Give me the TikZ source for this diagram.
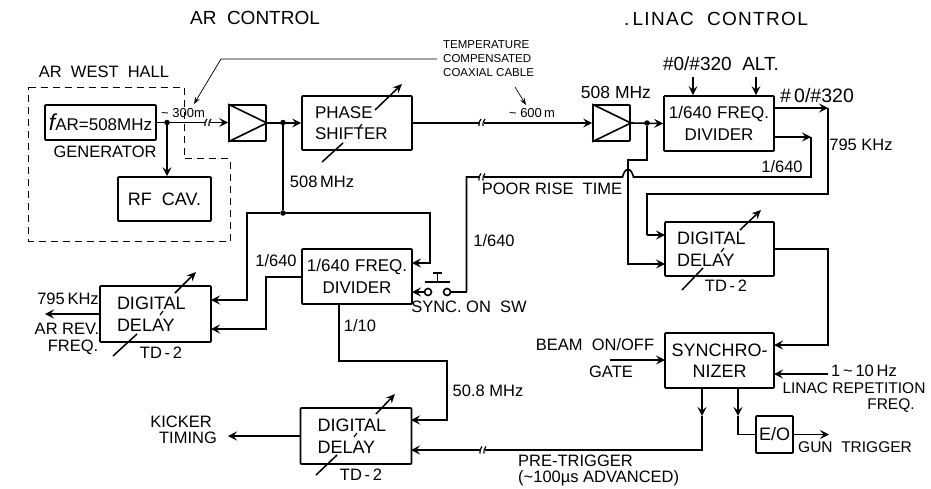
\documentclass[tikz,border=0pt]{standalone}
\usepackage{fontspec}
\setmainfont{Liberation Sans}
\usetikzlibrary{arrows.meta}
\tikzset{
  sig/.style={line width=1.6pt, -{Stealth[length=9pt,width=9pt,inset=3.5pt]}},
  wire/.style={line width=1.6pt},
  blk/.style={draw, line width=1.7pt, rounded corners=0.8pt, inner ysep=0pt, align=left, font=\fontsize{18}{21.5}\selectfont},
  ampblk/.style={blk, minimum width=37pt, minimum height=36pt, inner sep=0pt},
  delayblk/.style={blk, minimum height=56pt, text width=77pt, inner xsep=17pt},
  divblk/.style={blk, minimum height=55pt, text width=109pt, inner xsep=0.5pt, align=center, font=\fontsize{17}{22}\selectfont},
  lbl/.style={inner sep=0pt, align=center, font=\fontsize{16.5}{18}\selectfont},
  title/.style={inner sep=0pt, font=\fontsize{19}{20}\selectfont},
  tiny/.style={inner sep=0pt, align=left, font=\fontsize{11.5}{14}\selectfont},
  dot/.style={circle, fill, inner sep=0pt, minimum size=5.5pt},
  contact/.style={circle, draw, line width=1.6pt, inner sep=0pt, minimum size=7pt},
  trim/.style={line width=1.5pt, -{Stealth[length=9pt,width=8pt,inset=3pt]}},
  pics/cut/.style={code={
    \fill[white] (-2,-3) rectangle (2,3);
    \draw[line width=1.2pt] (-3,3.5) to[bend left=25] (-1,-3.5);
    \draw[line width=1.2pt] (1,3.5) to[bend left=25] (3,-3.5);
  }}
}
\begin{document}
\begin{tikzpicture}[x=1pt,y=-1pt]
  \useasboundingbox (0,0) rectangle (931,488);

  % Titles
  \node[title] (tAR) at (255,18) {AR\ \ CONTROL};
  \node[title] (tLI) at (716,19) {\addfontfeature{LetterSpace=7}.\,LINAC\ \ CONTROL};

  % West hall
  \draw[line width=0.8pt, dash pattern=on 7pt off 5pt] (28.5,87) -- (184,87) -- (184,158.5) -- (230,158.5) -- (230,241) -- (28.5,241) -- cycle;
  \node[lbl] (hall) at (104,72) {AR\ \ WEST\ \ HALL};

  % Blocks
  \node[blk, minimum width=111pt, minimum height=35pt, inner sep=0pt] (gen) at (100.5,122.5) {{\fontsize{23}{23}\selectfont\itshape f}{\fontsize{17}{17}\selectfont AR=508MHz}};
  \node[lbl] (genlbl) at (105,152) {GENERATOR};
  \node[blk, minimum width=93pt, minimum height=44pt, inner sep=0pt] (cav) at (164.5,199) {RF\ \ CAV.};
  \node[ampblk] (ampA) at (247.5,123) {};
  \node[blk, minimum height=54pt, text width=84pt, inner xsep=13pt, font=\fontsize{17}{21}\selectfont] (phase) at (357,123) {PHASE\\SHIFTER};
  \node[ampblk] (ampB) at (611.5,123) {};
  \node[divblk] (divB) at (719,123.5) {1/640 FREQ.\\DIVIDER};
  \node[blk, minimum height=54pt, text width=85pt, inner xsep=12pt] (delB) at (719.5,249) {DIGITAL\\DELAY};
  \node[blk, minimum height=55pt, minimum width=109pt, inner sep=0pt, align=center] (sync) at (719.5,360.5) {SYNCHRO-\\NIZER};
  \node[divblk] (divA) at (357,276.5) {1/640 FREQ.\\DIVIDER};
  \node[delayblk] (delA) at (155.5,314) {DIGITAL\\DELAY};
  \node[delayblk] (delC) at (356,436) {DIGITAL\\DELAY};
  \node[blk, minimum width=37pt, minimum height=37pt, inner sep=0pt] (eo) at (774.5,434.5) {E/O};

  % Amplifier triangles
  \draw[wire] (ampA.north west) -- (ampA.east) -- (ampA.south west);
  \draw[wire] (ampB.north west) -- (ampB.east) -- (ampB.south west);

  % Junctions
  \node[dot] (jA) at (167,122.5) {};
  \node[dot] (jB) at (283,122.5) {};
  \node[dot] (jC) at (283,213) {};
  \node[dot] (jD) at (647,123) {};

  % 508 MHz path
  \draw[sig] (gen.east) -- (ampA.west |- gen.east);
  \draw[sig] (jA) -- (jA |- cav.north);
  \draw[sig] (ampA.east) -- (phase.west);
  \draw[wire] (jB) -- (jC);
  \coordinate (pBus) at (430,213);
  \coordinate (pBusL) at (247,213);
  \coordinate (inDivA) at (412,263);
  \coordinate (inDelA) at (211,300);
  \draw[sig] (pBus -| jC) -- (pBus) -- (pBus |- inDivA) -- (inDivA);
  \draw[sig] (jC) -- (pBusL) -- (pBusL |- inDelA) -- (inDelA);
  \draw[sig] (phase.east) -- (ampB.west);
  \draw[sig] (ampB.east) -- (divB.west);
  \coordinate (inDelB) at (665,264);
  \coordinate (jogA) at (647,160);
  \coordinate (jogB) at (628,160);
  \draw[sig] (jD) -- (jogA) -- (jogB) -- (jogB |- inDelB) -- (inDelB);

  % Divider outputs
  \coordinate (outTop) at (773,108);
  \coordinate (turnTop) at (828,108);
  \coordinate (outLow) at (773,137);
  \coordinate (turnLow) at (811,137);
  \coordinate (inDelB2) at (665,235);
  \coordinate (humpR) at (633.5,177);
  \coordinate (humpL) at (622.5,177);
  \coordinate (backDown) at (466.5,177);
  \draw[sig] (outTop) -- (turnTop);
  \draw[wire] (turnTop) -- (828,194) -- (647,194) -- (647,235);
  \draw[sig] (647,235) -- (inDelB2);
  \draw[sig] (outLow) -- (turnLow);
  \draw[wire] (turnLow) -- (turnLow |- humpR) -- (humpR) .. controls (631,167) and (625,167) .. (humpL) -- (backDown) -- (466.5,292);

  % Sync switch
  \node[contact] (swR) at (447,292) {};
  \node[contact] (swL) at (428,292) {};
  \draw[wire] (466.5,292) -- (swR);
  \coordinate (inSw) at (412,292);
  \draw[sig] (swL) -- (inSw);
  \draw[wire] (425,282) -- (450,282);
  \draw[wire] (437.5,282) -- (437.5,273);
  \draw[wire] (433,273) -- (442,273);

  % Lower left
  \coordinate (outDivA) at (302,277);
  \coordinate (inDelA2) at (211,329);
  \draw[sig] (outDivA) -- (266,277) -- (266,329) -- (inDelA2);
  \coordinate (outRev) at (45,314);
  \draw[sig] (delA.west |- outRev) -- (outRev);
  \coordinate (outDiv10) at (339,304);
  \coordinate (inDelC) at (411,420);
  \draw[sig] (outDiv10) -- (339,361) -- (447,361) -- (447,420) -- (inDelC);
  \coordinate (outKick) at (228,436);
  \draw[sig] (delC.west) -- (outKick);

  % Synchronizer
  \coordinate (outDelB) at (774,249);
  \coordinate (inSyA) at (774,345);
  \coordinate (inSyB) at (774,374);
  \coordinate (inSyC) at (665,360);
  \draw[sig] (outDelB) -- (828,249) -- (828,345) -- (inSyA);
  \coordinate (repIn) at (828,374);
  \draw[sig] (repIn) -- (inSyB);
  \coordinate (gateIn) at (610,360);
  \draw[sig] (gateIn) -- (inSyC);
  \coordinate (preMid) at (702,416);
  \coordinate (gunMid) at (738,416);
  \draw[sig] (702,388) -- (preMid);
  \coordinate (inDelC2) at (411,450);
  \draw[sig] (preMid) -- (702,450) -- (inDelC2);
  \draw[sig] (738,388) -- (gunMid);
  \draw[wire] (gunMid) -- (738,434.5) -- (eo.west);
  \coordinate (gunOut) at (829,434.5);
  \draw[sig] (eo.east) -- (gunOut);

  % Control inputs on top of divider
  \coordinate (altA) at (693,77);
  \coordinate (altB) at (756,77);
  \draw[sig] (altA) -- (altA |- divB.north);
  \draw[sig] (altB) -- (altB |- divB.north);

  % Cable breaks
  \foreach \cx/\cy in {208/122.5, 482/122.5, 482/177, 483/450}
    \pic at (\cx,\cy) {cut};

  % Adjust arrows
  \foreach \ax/\ay/\bx/\by/\cx/\cy/\dx/\dy in {
      375/110/402/84/322/162/343/143,
      740/230/761/210/682/290/703/268,
      175/293/196/272/113/356/137/334,
      376/414/395/394/316/475/337/455} {
    \draw[trim] (\ax,\ay) -- (\bx,\by);
    \draw[line width=1.5pt] (\cx,\cy) -- (\dx,\dy);
  }
  % little bits of those arrows showing between the letters
  \foreach \ax/\ay in {362/124, 724/248, 163/311, 357/433}
    \draw[line width=1.2pt] (\ax,\ay) -- ++(-3,4);

  % Leader lines
  \coordinate (leadEnd) at (437,59);
  \coordinate (leadKnee) at (221,59);
  \coordinate (leadTip) at (194,104);
  \draw[line width=0.7pt, -{Stealth[length=7pt,width=5pt]}] (leadEnd) -- (leadKnee) -- (leadTip);
  \coordinate (leadB) at (515,87);
  \coordinate (leadBtip) at (526,105);
  \draw[line width=0.7pt, -{Stealth[length=7pt,width=5pt]}] (leadB) -- (leadBtip);

  % Labels
  \node[tiny, anchor=west] (cable) at (443,59) {TEMPERATURE\\COMPENSATED\\COAXIAL CABLE};
  \node[lbl, font=\fontsize{13}{14}\selectfont] (l300) at (183,113) {\char"7E\ 300m};
  \node[lbl, font=\fontsize{13}{14}\selectfont] (l600) at (532,113) {\char"7E\ 600\,m};
  \node[lbl] (f508a) at (322,182) {508\,MHz};
  \node[lbl, font=\fontsize{17.5}{18}\selectfont] (f508b) at (616,92) {508 MHz};
  \node[lbl, font=\fontsize{19}{20}\selectfont] (alt) at (721,64) {\#0/\#320\ \ ALT.};
  \node[lbl, font=\fontsize{19.5}{20}\selectfont] (n320) at (817,96) {\#\,0/\#320};
  \node[lbl] (k795) at (861,145) {795 KHz};
  \node[lbl] (r640) at (782,167) {1/640};
  \node[lbl] (poor) at (552,189) {POOR RISE\ \ TIME};
  \node[lbl] (s640) at (494,241) {1/640};
  \node[lbl] (syncsw) at (469,307) {SYNC. ON\ \ SW};
  \node[lbl] (l640) at (276,261) {1/640};
  \node[lbl] (l10) at (360,326) {1/10};
  \node[lbl] (f508c) at (488,391) {50.8 MHz};
  \node[lbl] (k795b) at (68,299) {795\,KHz};
  \node[lbl] (arrev) at (67,329) {AR REV.};
  \node[lbl] (freqa) at (73,347) {FREQ.};
  \node[lbl] (tdA) at (161,353) {TD\,-\,2};
  \node[lbl] (tdC) at (361,475) {TD\,-\,2};
  \node[lbl] (tdB) at (726,286) {TD\,-\,2};
  \node[lbl] (kick) at (181,422) {KICKER};
  \node[lbl] (timing) at (188,438) {TIMING};
  \node[lbl] (beam) at (595,345) {BEAM\ \ ON/OFF};
  \node[lbl] (gate) at (611,372) {GATE};
  \node[lbl] (rate) at (864,371) {1\,\char"7E\,10\,Hz};
  \node[lbl, font=\fontsize{15.5}{16}\selectfont] (linrep) at (854,388) {LINAC REPETITION};
  \node[lbl, font=\fontsize{15.5}{16}\selectfont] (freqb) at (891,406) {FREQ.};
  \node[lbl, anchor=west, font=\fontsize{15.5}{16}\selectfont] (gun) at (798,447) {GUN\ \ TRIGGER};
  \node[lbl, anchor=west] (pre) at (518,461) {PRE-TRIGGER};
  \node[lbl, anchor=west] (adv) at (518,478) {(\char"7E 100\char"B5s ADVANCED)};
\end{tikzpicture}
\end{document}
